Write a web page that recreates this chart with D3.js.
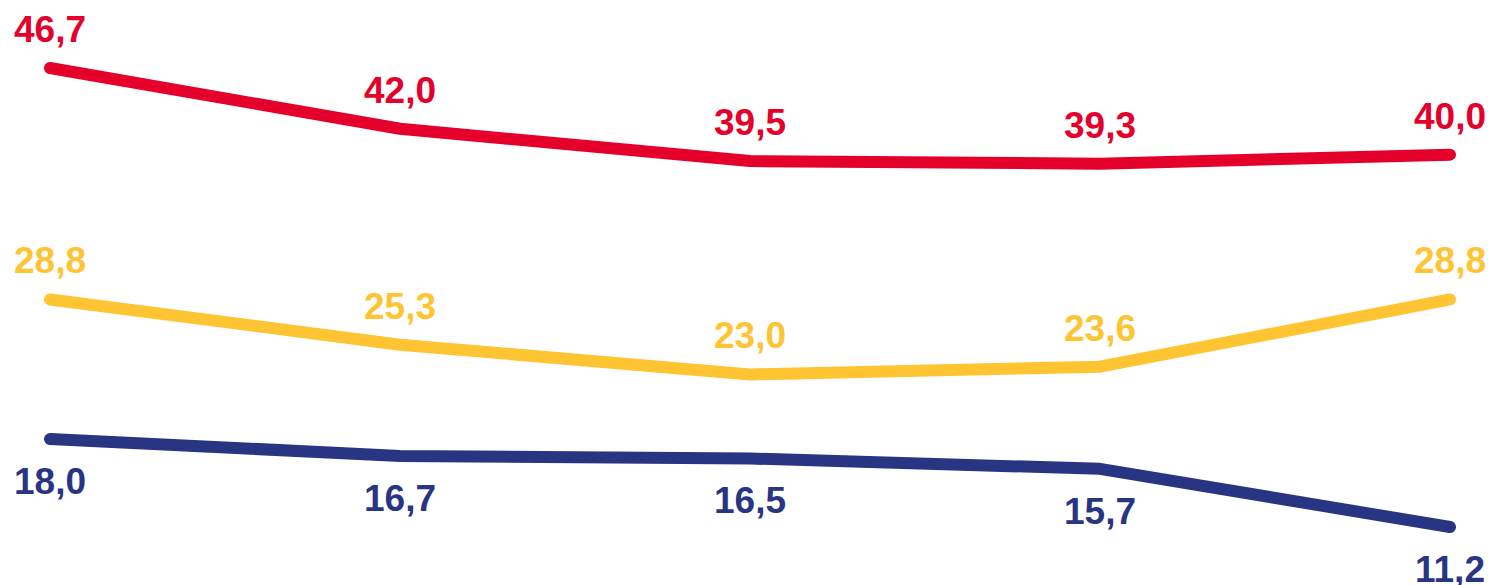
<!DOCTYPE html>
<html>
<head>
<meta charset="utf-8">
<script src="https://cdn.jsdelivr.net/npm/d3@7"></script>
<style>
  html, body { margin: 0; padding: 0; background: #fff; }
  .lbl { font-family: "Liberation Sans", Arial, sans-serif; font-weight: bold; font-size: 37px; }
</style>
</head>
<body>
<div id="chart"></div>
<script>
var categories = ["P1", "P2", "P3", "P4", "P5"];
var redValues = [46.7, 42.0, 39.5, 39.3, 40.0];
var yellowValues = [28.8, 25.3, 23.0, 23.6, 28.8];
var blueValues = [18.0, 16.7, 16.5, 15.7, 11.2];

var series = [
  { name: "red", values: redValues, color: "#e4002b", above: true },
  { name: "yellow", values: yellowValues, color: "#ffc431", above: true },
  { name: "blue", values: blueValues, color: "#283583", above: false }
];

var width = 1488, height = 585;

var x = d3.scalePoint()
  .domain(categories)
  .range([50, 1450]);

var y = d3.scaleLinear()
  .domain([11.2, 46.7])
  .range([527, 68]);

var svg = d3.select("#chart").append("svg")
  .attr("width", width)
  .attr("height", height);

var line = d3.line()
  .x(function(d, i) { return x(categories[i]); })
  .y(function(d) { return y(d); });

series.forEach(function(s) {
  svg.append("path")
    .datum(s.values)
    .attr("fill", "none")
    .attr("stroke", s.color)
    .attr("stroke-width", 12)
    .attr("stroke-linecap", "round")
    .attr("stroke-linejoin", "round")
    .attr("d", line);

  svg.selectAll(".lbl-" + s.name)
    .data(s.values)
    .enter()
    .append("text")
    .attr("class", "lbl lbl-" + s.name)
    .attr("fill", s.color)
    .attr("text-anchor", "middle")
    .attr("x", function(d, i) { return x(categories[i]); })
    .attr("y", function(d) { return s.above ? y(d) - 26 : y(d) + 55; })
    .text(function(d) { return d.toFixed(1).replace(".", ","); });
});
</script>
</body>
</html>
